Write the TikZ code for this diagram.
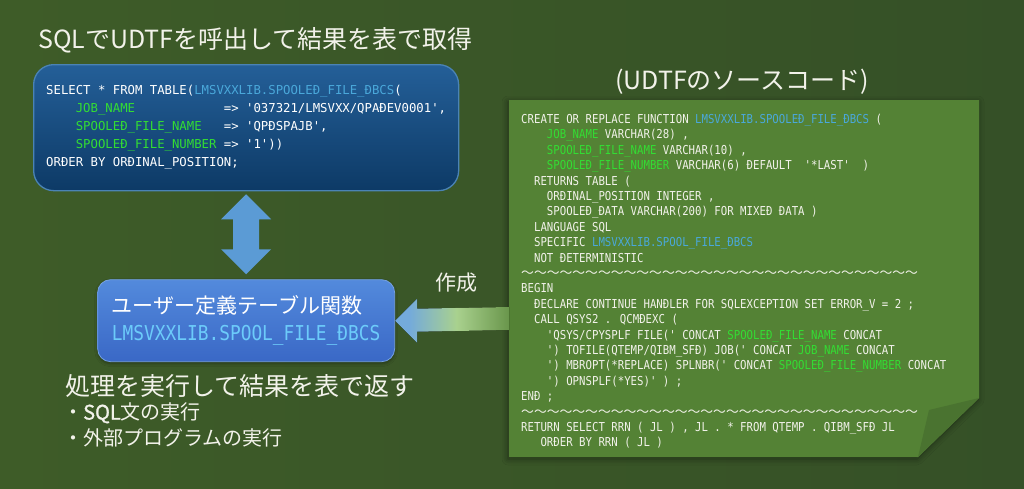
\documentclass[tikz,border=0pt]{standalone}
\usepackage{fontspec}
\usepackage{xcolor}
\setmainfont{Noto Sans CJK JP}
\setmonofont{DejaVu Sans Mono}
\newfontfamily\narrowmono{DejaVu Sans Mono}[FakeStretch=0.87]
\newfontfamily\semibold{Noto Sans CJK JP}[FakeBold=1.2]
\usetikzlibrary{arrows.meta,positioning,calc,shadows.blur}
\definecolor{BoardLeft}{HTML}{3E5C28}
\definecolor{BoardRight}{HTML}{355027}
\definecolor{Chalk}{HTML}{F2F2EA}
\definecolor{Navy}{HTML}{0D3A66}
\definecolor{NavyTop}{HTML}{245F98}
\definecolor{NavyEdge}{HTML}{4A83B5}
\definecolor{Sky}{HTML}{5B9BD5}
\definecolor{Royal}{HTML}{3A68C6}
\definecolor{RoyalTop}{HTML}{538ADC}
\definecolor{Leaf}{HTML}{548235}
\definecolor{LeafFold}{HTML}{4A7330}
\definecolor{Mint}{HTML}{A9D18E}
\definecolor{IdBlue}{HTML}{4AA8DA}
\definecolor{IdGreen}{HTML}{33DD33}
\definecolor{IdCyan}{HTML}{6CCBFA}
\pgfdeclarehorizontalshading{makegrad}{100bp}{color(0bp)=(Sky!85!white); color(31bp)=(Sky!85!white); color(52bp)=(Mint); color(75bp)=(Leaf!75!Mint); color(100bp)=(Leaf!75!Mint)}
\newcommand{\idb}[1]{\textcolor{IdBlue}{#1}}
\newcommand{\idg}[1]{\textcolor{IdGreen}{#1}}
\newcommand{\blanks}[1]{\hspace*{#1\fontcharwd\font`\ }}
\newcommand{\waves}{{\rmfamily\fontsize{12.8}{15.4}\selectfont ～～～～～～～～～～～～～～～～～～～～～～～～～～～～～～～}}
\tikzset{
  heading/.style={font=\fontsize{25}{30}\selectfont,text=Chalk,inner sep=0pt},
  note/.style={font=\fontsize{20}{25}\selectfont,text=Chalk,inner sep=0pt},
  querybox/.style={draw=NavyEdge,line width=1.3pt,top color=NavyTop,bottom color=Navy,rounded corners=20pt,minimum width=425pt,minimum height=126pt,align=left,text=white,font=\ttfamily\fontsize{12.3}{18}\selectfont},
  udtfbox/.style={draw=RoyalTop!80!white,line width=0.8pt,top color=RoyalTop,bottom color=Royal,rounded corners=13pt,minimum width=297pt,minimum height=82pt,align=left,text=white,font=\fontsize{21}{27}\selectfont,blur shadow={shadow xshift=0pt,shadow yshift=-2pt,shadow blur radius=3pt,shadow opacity=35}},
  codepanel/.style={fill=Leaf,blur shadow={shadow xshift=-1pt,shadow yshift=-2pt,shadow blur radius=6pt,shadow opacity=45}},
  fold/.style={fill=LeafFold},
  srctext/.style={align=left,text=Chalk,inner sep=0pt,font=\narrowmono\fontsize{12.3}{15.4}\selectfont},
  blockarrow/.style={fill=Sky},
  makearrow/.style={shading=makegrad}
}
\begin{document}
\begin{tikzpicture}[x=1pt,y=-1pt,node distance=88pt]
  \useasboundingbox (0,0) rectangle (1024,488);
  \fill[left color=BoardLeft,right color=BoardRight] (0,0) rectangle (1024,488);
  \node[heading,anchor=west] (title) at (38,40) {SQLでUDTFを呼出して結果を表で取得};
  \node[querybox,anchor=north west] (query) at (33,64) {SELECT * FROM TABLE(\idb{LMSVXXLIB.SPOOLEĐ\_FILE\_ĐBCS}(\\
\blanks{4}\idg{JOB\_NAME}\blanks{12}=> '037321/LMSVXX/QPAĐEV0001',\\
\blanks{4}\idg{SPOOLEĐ\_FILE\_NAME}\blanks{3}=> 'QPĐSPAJB',\\
\blanks{4}\idg{SPOOLEĐ\_FILE\_NUMBER} => '1'))\\
ORĐER BY ORĐINAL\_POSITION;};
  \node[udtfbox,below=of query] (udtf) {ユーザー定義テーブル関数\\{\narrowmono\fontsize{20.5}{27}\selectfont\textcolor{IdCyan}{LMSVXXLIB.SPOOL\_FILE\_ĐBCS}}};
  \coordinate (t) at ($(query.south)+(0,3)$);
  \coordinate (b) at ($(udtf.north)+(0,-5)$);
  \fill[blockarrow] (t) -- ($(t)+(25,25)$) -- ($(t)+(13,25)$) -- ($(b)+(13,-25)$) -- ($(b)+(25,-25)$) -- (b)
    -- ($(b)+(-25,-25)$) -- ($(b)+(-13,-25)$) -- ($(t)+(-13,25)$) -- ($(t)+(-25,25)$) -- cycle;
  \node[heading,anchor=west] (result) at (65,386) {処理を実行して結果を表で返す};
  \node[note,anchor=west] (sqlrun) at (63,413) {・{\semibold SQL}文の実行};
  \node[note,below=5pt of sqlrun.south west,anchor=north west] (extrun) {・外部プログラムの実行};
  \node[heading] (srctitle) at (742,82) {(UDTFのソースコード)};
  \fill[codepanel] (509,100) -- (979,100) -- (979,398) -- (918,457) -- (509,457) -- cycle;
  \fill[fold] (979,398) -- (929,410) -- (918,457) -- cycle;
  \coordinate (srcedge) at (509,319);
  \node[srctext,anchor=north west] (srccode) at (521,114) {CREATE OR REPLACE FUNCTION \idb{LMSVXXLIB.SPOOLEĐ\_FILE\_ĐBCS} (\\
\blanks{4}\idg{JOB\_NAME} VARCHAR(28) ,\\
\blanks{4}\idg{SPOOLEĐ\_FILE\_NAME} VARCHAR(10) ,\\
\blanks{4}\idg{SPOOLEĐ\_FILE\_NUMBER} VARCHAR(6) ĐEFAULT\blanks{2}'*LAST'\blanks{2})\\
\blanks{2}RETURNS TABLE (\\
\blanks{4}ORĐINAL\_POSITION INTEGER ,\\
\blanks{4}SPOOLEĐ\_ĐATA VARCHAR(200) FOR MIXEĐ ĐATA )\\
\blanks{2}LANGUAGE SQL\\
\blanks{2}SPECIFIC \idb{LMSVXXLIB.SPOOL\_FILE\_ĐBCS}\\
\blanks{2}NOT ĐETERMINISTIC\\
\waves\\
BEGIN\\
\blanks{2}ĐECLARE CONTINUE HANĐLER FOR SQLEXCEPTION SET ERROR\_V = 2 ;\\
\blanks{2}CALL QSYS2 . QCMĐEXC (\\
\blanks{4}'QSYS/CPYSPLF FILE(' CONCAT \idg{SPOOLEĐ\_FILE\_NAME} CONCAT\\
\blanks{4}') TOFILE(QTEMP/QIBM\_SFĐ) JOB(' CONCAT \idg{JOB\_NAME} CONCAT\\
\blanks{4}') MBROPT(*REPLACE) SPLNBR(' CONCAT \idg{SPOOLEĐ\_FILE\_NUMBER} CONCAT\\
\blanks{4}') OPNSPLF(*YES)' ) ;\\
ENĐ ;\\
\waves\\
RETURN SELECT RRN ( JL ) , JL . * FROM QTEMP . QIBM\_SFĐ JL\\
\blanks{3}ORĐER BY RRN ( JL )};
  \fill[makearrow] (udtf.east) -- ($(udtf.east)+(22,-22)$) -- ($(udtf.east)+(22,-12)$) -- ($(srcedge)+(0,-12)$)
    -- ($(srcedge)+(0,11)$) -- ($(udtf.east)+(22,11)$) -- ($(udtf.east)+(22,22)$) -- cycle;
  \node[note,font=\fontsize{21}{25}\selectfont] (make) at (456,283) {作成};
\end{tikzpicture}
\end{document}
